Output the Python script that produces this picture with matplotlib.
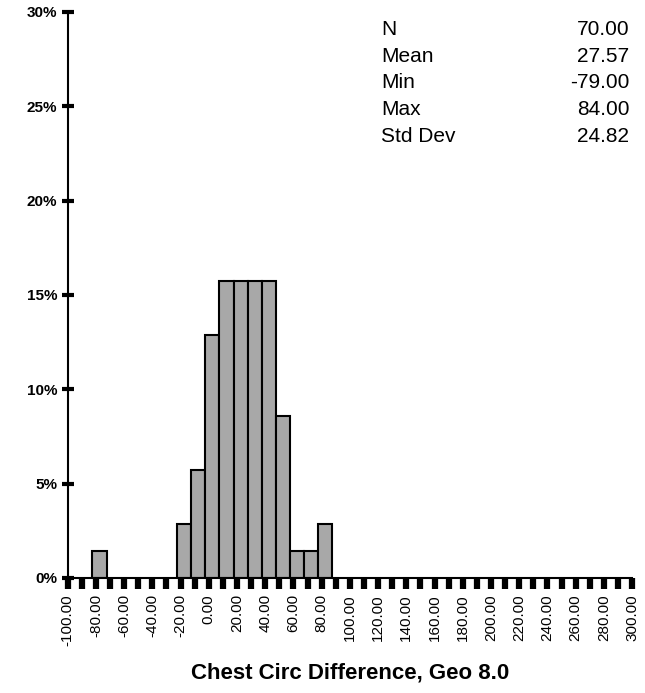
import matplotlib.pyplot as plt
import numpy as np

plt.rcParams['font.family'] = ['Liberation Sans', 'DejaVu Sans']

centers = [-77.5, -17.5, -7.5, 2.5, 12.5, 22.5, 32.5, 42.5, 52.5, 62.5, 72.5, 82.5]
pcts = [1.43, 2.86, 5.71, 12.86, 15.71, 15.71, 15.71, 15.71, 8.57, 1.43, 1.43, 2.86]
stat_names = ["N", "Mean", "Min", "Max", "Std Dev"]
stat_vals = ["70.00", "27.57", "-79.00", "84.00", "24.82"]

fig = plt.figure(figsize=(6.45, 6.93), dpi=100)
ax = fig.add_axes([0.105, 0.166, 0.875, 0.817])

ax.bar(centers, pcts, width=10, color="#a8a8a8", edgecolor="black", linewidth=1.5)

ax.set_xlim(-100, 300)
ax.set_ylim(0, 30)
ax.spines["top"].set_visible(False)
ax.spines["right"].set_visible(False)
ax.spines["left"].set_linewidth(1.5)
ax.spines["bottom"].set_linewidth(1.5)

ax.set_yticks(np.arange(0, 31, 5))
ax.set_yticklabels([f"{v}%" for v in range(0, 31, 5)], fontsize=11, fontweight="bold")
ax.tick_params(axis="y", direction="inout", length=8, width=3)

ax.set_xticks(np.arange(-100, 301, 20))
ax.set_xticklabels([f"{v:.2f}" for v in range(-100, 301, 20)], rotation=90,
                   fontsize=11)
ax.set_xticks(np.arange(-100, 301, 10), minor=True)
ax.tick_params(axis="x", which="both", direction="out", length=8, width=4.5)

ax.set_xlabel("Chest Circ Difference, Geo 8.0", fontsize=16, fontweight="bold", labelpad=12)

for i, (n, v) in enumerate(zip(stat_names, stat_vals)):
    y = 0.985 - i * 0.047
    ax.text(0.555, y, n, transform=ax.transAxes, fontsize=15, va="top")
    ax.text(0.995, y, v, transform=ax.transAxes, fontsize=15, va="top", ha="right")

fig.savefig("out.png", dpi=100)
